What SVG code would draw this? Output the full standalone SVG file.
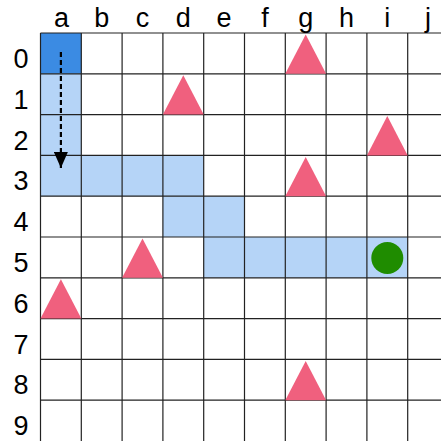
<svg xmlns="http://www.w3.org/2000/svg" width="441" height="441" viewBox="0 0 441 441">
<style>
.lbl{font-family:"Liberation Sans",Arial,sans-serif;font-size:27px;fill:#000;text-anchor:middle}
.path{fill:#b5d4f7}
.start{fill:#3b8be3}
.obs{fill:#f0607e}
.grid line{stroke:#222;stroke-width:1.2}
</style>
<defs>
<marker id="ah" viewBox="0 0 16 14" refX="16" refY="7" markerWidth="16" markerHeight="14" markerUnits="userSpaceOnUse" orient="auto">
<path d="M0,0 L16,7 L0,14 Z" fill="#000"/>
</marker>
</defs>
<rect width="441" height="441" fill="#fff"/>
<g id="cells">
<rect class="start" x="40.5" y="33" width="40.8" height="40.8"/>
<rect class="path" x="40.5" y="73.8" width="40.8" height="81.6"/>
<rect class="path" x="40.5" y="155.4" width="163.2" height="40.8"/>
<rect class="path" x="162.9" y="196.2" width="81.6" height="40.8"/>
<rect class="path" x="203.7" y="237" width="204" height="40.8"/>
</g>
<g class="grid" id="grid">
<line x1="40.5" y1="33" x2="40.5" y2="441"/>
<line x1="81.3" y1="33" x2="81.3" y2="441"/>
<line x1="122.1" y1="33" x2="122.1" y2="441"/>
<line x1="162.9" y1="33" x2="162.9" y2="441"/>
<line x1="203.7" y1="33" x2="203.7" y2="441"/>
<line x1="244.5" y1="33" x2="244.5" y2="441"/>
<line x1="285.3" y1="33" x2="285.3" y2="441"/>
<line x1="326.1" y1="33" x2="326.1" y2="441"/>
<line x1="366.9" y1="33" x2="366.9" y2="441"/>
<line x1="407.7" y1="33" x2="407.7" y2="441"/>
<line x1="40.5" y1="33" x2="441" y2="33"/>
<line x1="40.5" y1="73.8" x2="441" y2="73.8"/>
<line x1="40.5" y1="114.6" x2="441" y2="114.6"/>
<line x1="40.5" y1="155.4" x2="441" y2="155.4"/>
<line x1="40.5" y1="196.2" x2="441" y2="196.2"/>
<line x1="40.5" y1="237" x2="441" y2="237"/>
<line x1="40.5" y1="277.8" x2="441" y2="277.8"/>
<line x1="40.5" y1="318.6" x2="441" y2="318.6"/>
<line x1="40.5" y1="359.4" x2="441" y2="359.4"/>
<line x1="40.5" y1="400.2" x2="441" y2="400.2"/>
</g>
<g id="obstacles">
<polygon class="obs" points="285.3,73.8 326.1,73.8 305.7,34.5"/>
<polygon class="obs" points="162.9,114.6 203.7,114.6 183.3,75.3"/>
<polygon class="obs" points="366.9,155.4 407.7,155.4 387.3,116.1"/>
<polygon class="obs" points="285.3,196.2 326.1,196.2 305.7,156.9"/>
<polygon class="obs" points="122.1,277.8 162.9,277.8 142.5,238.5"/>
<polygon class="obs" points="40.5,318.6 81.3,318.6 60.9,279.3"/>
<polygon class="obs" points="285.3,400.2 326.1,400.2 305.7,360.9"/>
</g>
<g id="goal">
<circle cx="387.3" cy="258" r="16" fill="#1f8c00"/>
</g>
<g id="connectors">
<line x1="60.9" y1="52" x2="60.9" y2="168" stroke="#000" stroke-width="2.2" stroke-dasharray="5,3" marker-end="url(#ah)"/>
</g>
<g id="labels">
<text class="lbl" x="61.5" y="27">a</text>
<text class="lbl" x="101.7" y="27">b</text>
<text class="lbl" x="142.5" y="27">c</text>
<text class="lbl" x="183.3" y="27">d</text>
<text class="lbl" x="224.1" y="27">e</text>
<text class="lbl" x="264.9" y="27">f</text>
<text class="lbl" x="305.7" y="27">g</text>
<text class="lbl" x="346.5" y="27">h</text>
<text class="lbl" x="387.3" y="27">i</text>
<text class="lbl" x="428.1" y="27">j</text>
<text class="lbl" x="21" y="68">0</text>
<text class="lbl" x="21" y="108.8">1</text>
<text class="lbl" x="21" y="149.6">2</text>
<text class="lbl" x="21" y="190.4">3</text>
<text class="lbl" x="21" y="231.2">4</text>
<text class="lbl" x="21" y="272">5</text>
<text class="lbl" x="21" y="312.8">6</text>
<text class="lbl" x="21" y="353.6">7</text>
<text class="lbl" x="21" y="394.4">8</text>
<text class="lbl" x="21" y="435.2">9</text>
</g>
</svg>
